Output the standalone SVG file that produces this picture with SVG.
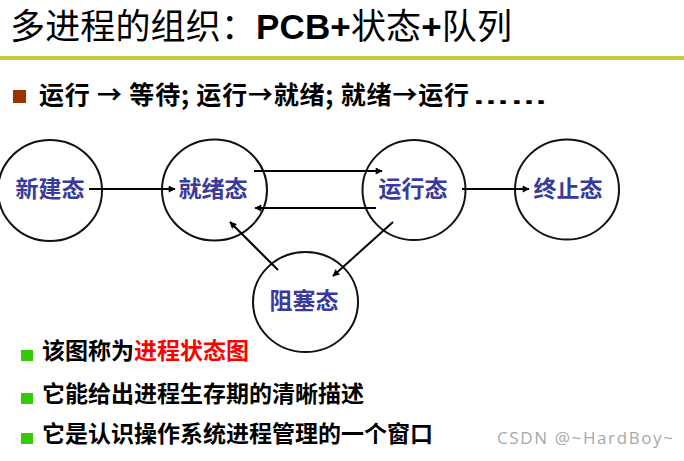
<svg xmlns="http://www.w3.org/2000/svg" width="684" height="461" viewBox="0 0 684 461">
<defs>
<marker id="ah" viewBox="0 0 10 10" refX="9" refY="5" markerWidth="9" markerHeight="7" markerUnits="userSpaceOnUse" orient="auto">
<path d="M0,0 L10,5 L0,10 z" fill="#000"/>
</marker>
<style>
.node ellipse{fill:#fff;stroke:#111;stroke-width:2;}
.node text{font-family:"Noto Sans CJK SC",sans-serif;font-size:23px;font-weight:bold;fill:#3a3a9c;text-anchor:middle;}
.conn line{stroke:#000;stroke-width:2;marker-end:url(#ah);}
.bul{font-family:"Noto Sans CJK SC",sans-serif;font-size:23px;font-weight:bold;fill:#000;}
</style>
</defs>
<rect width="684" height="461" fill="#fff"/>
<text x="10" y="39" font-family="Liberation Sans,Noto Sans CJK SC,sans-serif" font-size="35" fill="#000" textLength="502"><tspan>多进程的组织：</tspan><tspan font-weight="bold">PCB+</tspan><tspan>状态</tspan><tspan font-weight="bold">+</tspan><tspan>队列</tspan></text>
<rect x="0" y="56" width="684" height="4" fill="#c8c840"/>
<rect x="13" y="90" width="13" height="13" fill="#993300"/>
<text x="39" y="104" font-family="Noto Sans CJK SC,sans-serif" font-size="25" font-weight="bold" fill="#000" textLength="430" lengthAdjust="spacing">运行 → 等待; 运行→就绪; 就绪→运行</text>
<text x="472" y="104" font-family="Liberation Sans,sans-serif" font-size="25" font-weight="bold" fill="#000" textLength="76" lengthAdjust="spacingAndGlyphs">……</text>
<g id="new" class="node"><ellipse cx="50" cy="190.5" rx="52" ry="50.5"/><text x="50" y="197">新建态</text></g>
<g id="ready" class="node"><ellipse cx="214.5" cy="190" rx="52.5" ry="50.5"/><text x="213" y="197">就绪态</text></g>
<g id="running" class="node"><ellipse cx="414" cy="190" rx="51.5" ry="50"/><text x="413" y="197">运行态</text></g>
<g id="terminated" class="node"><ellipse cx="567" cy="189.5" rx="52" ry="50"/><text x="568" y="197">终止态</text></g>
<g id="blocked" class="node"><ellipse cx="305.5" cy="302" rx="52.5" ry="50"/><text x="304" y="309">阻塞态</text></g>
<g class="conn">
<line x1="89" y1="189" x2="175" y2="189"/>
<line x1="254" y1="171" x2="382" y2="171"/>
<line x1="376" y1="208" x2="255" y2="208"/>
<line x1="462" y1="189" x2="529" y2="189"/>
<line x1="393" y1="222" x2="333" y2="276"/>
<line x1="278" y1="270" x2="230" y2="222"/>
</g>
<rect x="21" y="350" width="12" height="11" fill="#33cc00"/>
<text x="42" y="359" class="bul">该图称为<tspan fill="#ff0000">进程状态图</tspan></text>
<rect x="21" y="393" width="12" height="11" fill="#33cc00"/>
<text x="42" y="402" class="bul">它能给出进程生存期的清晰描述</text>
<rect x="21" y="433" width="12" height="11" fill="#33cc00"/>
<text x="42" y="442" class="bul">它是认识操作系统进程管理的一个窗口</text>
<text x="497" y="444" font-family="Open Sans,sans-serif" font-size="17" fill="#a8a8a8" textLength="176">CSDN @~HardBoy~</text>
</svg>
